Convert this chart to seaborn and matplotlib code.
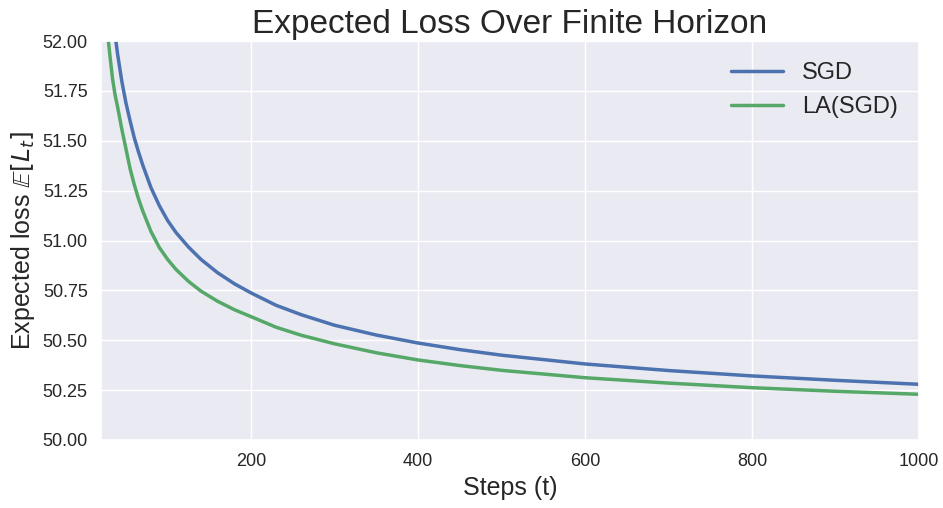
import numpy as np
import pandas as pd
import matplotlib
matplotlib.use("Agg")
import matplotlib.pyplot as plt
import seaborn as sns

# values
steps = [25, 28, 31, 34, 37, 40, 45, 50, 55, 60, 65, 70, 80, 90, 100, 110,
         125, 140, 160, 180, 200, 230, 260, 300, 350, 400, 450, 500, 600,
         700, 800, 900, 1000]
sgd_loss = [52.565, 52.40, 52.255, 52.133, 52.03, 51.935, 51.80, 51.69,
            51.60, 51.515, 51.445, 51.38, 51.265, 51.175, 51.10, 51.04,
            50.967, 50.905, 50.838, 50.783, 50.737, 50.675, 50.628, 50.575,
            50.526, 50.486, 50.453, 50.425, 50.381, 50.348, 50.321, 50.299,
            50.279]
la_loss = [52.18, 52.04, 51.92, 51.81, 51.73, 51.67, 51.56, 51.46, 51.36,
           51.28, 51.21, 51.15, 51.045, 50.965, 50.905, 50.855, 50.795,
           50.746, 50.695, 50.653, 50.618, 50.565, 50.525, 50.482, 50.437,
           50.401, 50.373, 50.349, 50.312, 50.285, 50.262, 50.244, 50.229]
series_names = ["SGD", "LA(SGD)"]

df = pd.DataFrame({
    "Steps (t)": steps * 2,
    "loss": sgd_loss + la_loss,
    "method": [series_names[0]] * len(steps) + [series_names[1]] * len(steps),
})

sns.set_theme(style="darkgrid")
plt.rcParams["font.family"] = ["Liberation Sans", "DejaVu Sans"]
deep = sns.color_palette("deep")

fig, ax = plt.subplots(figsize=(9.43, 5.08), dpi=100)
fig.subplots_adjust(left=0.107, right=0.9745, top=0.919, bottom=0.134)

sns.lineplot(data=df, x="Steps (t)", y="loss", hue="method",
             hue_order=series_names, palette=[deep[0], deep[2]],
             linewidth=2.5, ax=ax)

ax.set_xlim(20, 1000)
ax.set_ylim(50, 52)
ax.set_yticks([50.0, 50.25, 50.5, 50.75, 51.0, 51.25, 51.5, 51.75, 52.0])
ax.set_yticklabels([f"{v:.2f}" for v in ax.get_yticks()])
ax.set_xticks([200, 400, 600, 800, 1000])
ax.tick_params(labelsize=13)

ax.set_title("Expected Loss Over Finite Horizon", fontsize=24)
ax.set_xlabel("Steps (t)", fontsize=18)
ax.set_ylabel(r"Expected loss $\mathbb{E}[L_t]$", fontsize=18)
ax.legend(title=None, fontsize=17, frameon=False, loc="upper right",
          handlelength=2.2)

plt.savefig("out.png", dpi=100)
